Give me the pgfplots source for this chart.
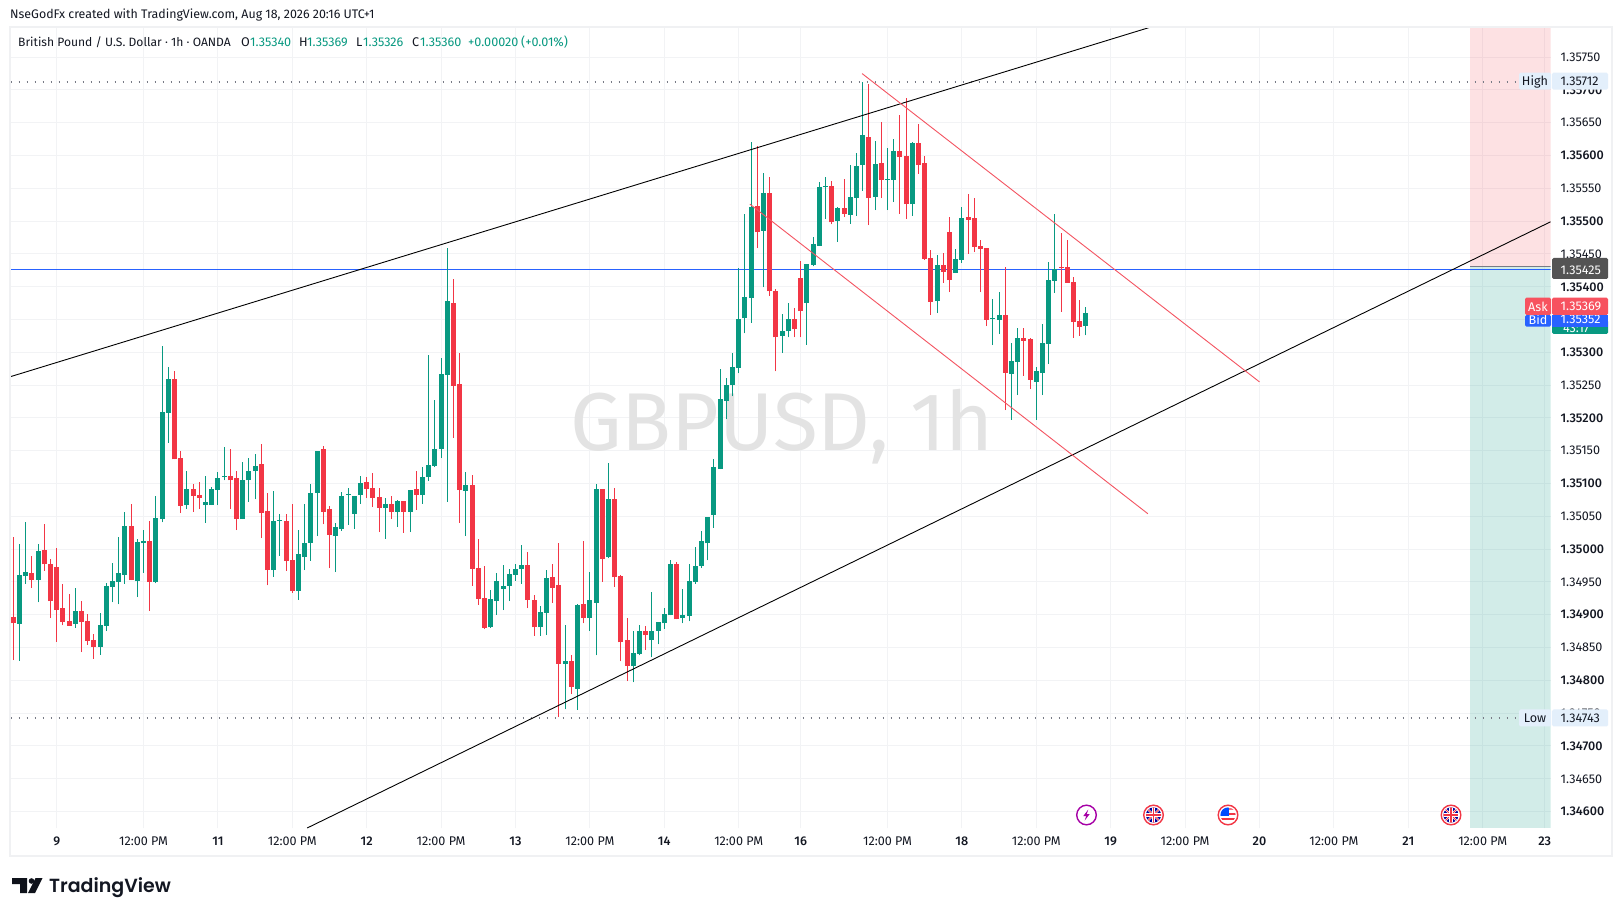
\documentclass[border=0pt]{standalone}
\usepackage{fontspec}
\setmainfont[BoldFont={Fira Sans Medium}]{Fira Sans}
\newfontfamily\logofont[BoldFont={Poppins SemiBold}]{Poppins}
\usepackage{pgfplots}
\usepackage{pgfplotstable}
\pgfplotsset{compat=1.18}
\definecolor{tvg}{HTML}{089981}
\definecolor{tvr}{HTML}{F23645}
\definecolor{tvb}{HTML}{2962FF}
\definecolor{tvt}{HTML}{131722}
\definecolor{gridc}{HTML}{F2F3F5}
\definecolor{frame}{HTML}{F0F1F3}
\definecolor{lbl}{HTML}{E3EFFB}
\definecolor{wm}{HTML}{E3E3E3}
\definecolor{dots}{HTML}{787B86}
\definecolor{chan}{HTML}{F7525F}
\newcommand{\ts}{\fontsize{12.6}{15}\selectfont}
\newcommand{\tsh}{\fontsize{12.4}{15}\selectfont}
\newcommand{\tsl}{\fontsize{12.1}{15}\selectfont}
\pgfplotstableread{
i lo bl bh hi
1 1.34830 1.34886 1.34961 1.35008
2 1.34947 1.34959 1.34965 1.35041
4 1.34919 1.34953 1.34997 1.35008
10 1.34880 1.34886 1.34906 1.34941
14 1.34839 1.34851 1.34884 1.34903
15 1.34875 1.34883 1.34944 1.34948
16 1.34919 1.34942 1.34951 1.34979
17 1.34916 1.34950 1.34964 1.35019
18 1.34947 1.34961 1.35035 1.35057
20 1.34927 1.34951 1.35011 1.35015
21 1.34964 1.35009 1.35012 1.35029
23 1.34948 1.34950 1.35047 1.35081
24 1.35041 1.35046 1.35209 1.35310
25 1.35162 1.35208 1.35259 1.35278
28 1.35061 1.35067 1.35092 1.35119
31 1.35040 1.35067 1.35072 1.35111
32 1.35067 1.35067 1.35092 1.35095
33 1.35067 1.35090 1.35108 1.35118
34 1.35105 1.35110 1.35111 1.35156
37 1.35046 1.35046 1.35105 1.35133
38 1.35072 1.35105 1.35119 1.35139
39 1.35076 1.35119 1.35127 1.35145
42 1.34958 1.34968 1.35043 1.35089
43 1.34990 1.35043 1.35044 1.35054
46 1.34923 1.34936 1.34993 1.35029
47 1.34968 1.34988 1.35010 1.35069
48 1.34982 1.35010 1.35086 1.35099
49 1.35020 1.35086 1.35150 1.35150
52 1.34965 1.35020 1.35034 1.35040
53 1.35028 1.35031 1.35081 1.35087
54 1.35037 1.35083 1.35084 1.35093
55 1.35031 1.35054 1.35081 1.35081
56 1.35069 1.35083 1.35101 1.35112
60 1.35016 1.35063 1.35069 1.35078
62 1.35034 1.35057 1.35073 1.35075
64 1.35026 1.35057 1.35090 1.35090
66 1.35069 1.35083 1.35110 1.35125
67 1.35104 1.35110 1.35128 1.35296
68 1.35125 1.35127 1.35153 1.35227
69 1.35139 1.35153 1.35267 1.35291
70 1.35072 1.35266 1.35378 1.35459
73 1.35020 1.35089 1.35098 1.35118
77 1.34880 1.34881 1.34924 1.34938
78 1.34900 1.34921 1.34952 1.34964
79 1.34907 1.34939 1.34944 1.34976
80 1.34921 1.34944 1.34962 1.34970
81 1.34952 1.34961 1.34970 1.34978
82 1.34947 1.34970 1.34976 1.35006
85 1.34868 1.34881 1.34904 1.34913
86 1.34869 1.34903 1.34956 1.34968
89 1.34756 1.34825 1.34829 1.34884
91 1.34755 1.34787 1.34915 1.34916
93 1.34876 1.34895 1.34922 1.34965
94 1.34838 1.34918 1.35091 1.35100
96 1.34986 1.34988 1.35076 1.35132
100 1.34797 1.34822 1.34841 1.34875
101 1.34838 1.34840 1.34875 1.34884
103 1.34835 1.34861 1.34876 1.34934
104 1.34855 1.34876 1.34889 1.34889
105 1.34879 1.34887 1.34901 1.34911
106 1.34899 1.34899 1.34977 1.34983
108 1.34887 1.34895 1.34899 1.34940
109 1.34890 1.34898 1.34951 1.34977
110 1.34947 1.34950 1.34974 1.35003
111 1.34971 1.34974 1.35012 1.35027
112 1.34983 1.35009 1.35049 1.35049
113 1.35033 1.35052 1.35125 1.35137
114 1.35122 1.35122 1.35229 1.35274
115 1.35198 1.35226 1.35251 1.35261
116 1.35233 1.35251 1.35277 1.35299
117 1.35268 1.35276 1.35351 1.35428
118 1.35329 1.35352 1.35384 1.35511
119 1.35345 1.35383 1.35521 1.35620
121 1.35399 1.35485 1.35543 1.35573
124 1.35299 1.35325 1.35332 1.35358
125 1.35323 1.35332 1.35351 1.35375
128 1.35312 1.35375 1.35434 1.35434
129 1.35431 1.35433 1.35465 1.35476
130 1.35462 1.35462 1.35552 1.35559
131 1.35503 1.35552 1.35553 1.35568
133 1.35469 1.35500 1.35520 1.35521
135 1.35496 1.35510 1.35537 1.35586
136 1.35508 1.35535 1.35584 1.35604
137 1.35546 1.35586 1.35631 1.35712
139 1.35517 1.35537 1.35587 1.35622
141 1.35517 1.35563 1.35564 1.35612
142 1.35529 1.35563 1.35607 1.35625
145 1.35508 1.35526 1.35619 1.35621
149 1.35360 1.35378 1.35433 1.35449
152 1.35421 1.35421 1.35442 1.35458
153 1.35436 1.35441 1.35505 1.35522
158 1.35311 1.35351 1.35353 1.35381
159 1.35328 1.35350 1.35357 1.35392
161 1.35197 1.35267 1.35287 1.35314
162 1.35235 1.35286 1.35322 1.35337
165 1.35197 1.35255 1.35272 1.35278
166 1.35235 1.35269 1.35314 1.35343
167 1.35282 1.35313 1.35410 1.35438
168 1.35391 1.35409 1.35427 1.35511
173 1.35326 1.35340 1.35360 1.35369
}\greencandles
\pgfplotstableread{
i lo bl bh hi
0 1.34831 1.34887 1.34897 1.35018
3 1.34941 1.34953 1.34964 1.34990
5 1.34967 1.34977 1.34999 1.35038
6 1.34895 1.34921 1.34977 1.34985
7 1.34859 1.34907 1.34973 1.35002
8 1.34884 1.34889 1.34910 1.34947
9 1.34883 1.34883 1.34891 1.34932
11 1.34843 1.34889 1.34906 1.34921
12 1.34854 1.34860 1.34891 1.34901
13 1.34833 1.34851 1.34862 1.34871
19 1.34953 1.34953 1.35035 1.35069
22 1.34906 1.34950 1.35012 1.35043
26 1.35137 1.35137 1.35259 1.35272
27 1.35055 1.35066 1.35139 1.35150
29 1.35057 1.35081 1.35092 1.35099
30 1.35061 1.35078 1.35083 1.35102
35 1.35061 1.35105 1.35111 1.35153
36 1.35029 1.35046 1.35108 1.35119
40 1.35017 1.35055 1.35130 1.35160
41 1.34945 1.34968 1.35058 1.35086
44 1.34967 1.34982 1.35043 1.35054
45 1.34933 1.34936 1.34983 1.35069
50 1.35038 1.35057 1.35153 1.35157
51 1.34971 1.35022 1.35061 1.35066
57 1.35078 1.35092 1.35102 1.35110
58 1.35064 1.35078 1.35093 1.35116
59 1.35026 1.35063 1.35080 1.35093
61 1.35046 1.35057 1.35069 1.35081
63 1.35025 1.35057 1.35073 1.35073
65 1.35060 1.35083 1.35092 1.35119
71 1.35170 1.35249 1.35375 1.35412
72 1.35040 1.35090 1.35252 1.35299
74 1.34944 1.34970 1.35098 1.35113
75 1.34915 1.34924 1.34971 1.35016
76 1.34878 1.34880 1.34926 1.34974
83 1.34910 1.34923 1.34976 1.34996
84 1.34868 1.34881 1.34923 1.34930
87 1.34918 1.34941 1.34958 1.34978
88 1.34744 1.34825 1.34945 1.35009
90 1.34779 1.34790 1.34829 1.34838
92 1.34887 1.34895 1.34916 1.35012
95 1.34950 1.34985 1.35091 1.35091
97 1.34943 1.34957 1.35076 1.35094
98 1.34829 1.34858 1.34959 1.34960
99 1.34799 1.34822 1.34861 1.34895
102 1.34847 1.34869 1.34875 1.34883
107 1.34893 1.34893 1.34977 1.34980
120 1.35459 1.35483 1.35523 1.35614
122 1.35386 1.35393 1.35543 1.35568
123 1.35271 1.35323 1.35393 1.35396
126 1.35323 1.35335 1.35351 1.35367
127 1.35323 1.35363 1.35413 1.35439
132 1.35495 1.35498 1.35553 1.35562
134 1.35506 1.35511 1.35520 1.35564
138 1.35494 1.35535 1.35628 1.35709
140 1.35535 1.35563 1.35589 1.35651
143 1.35511 1.35598 1.35607 1.35662
144 1.35503 1.35526 1.35599 1.35688
146 1.35572 1.35586 1.35619 1.35648
147 1.35441 1.35443 1.35589 1.35599
148 1.35357 1.35377 1.35444 1.35456
150 1.35406 1.35423 1.35433 1.35452
151 1.35392 1.35410 1.35484 1.35506
154 1.35450 1.35502 1.35506 1.35542
155 1.35453 1.35461 1.35505 1.35535
156 1.35392 1.35458 1.35462 1.35471
157 1.35340 1.35350 1.35459 1.35459
160 1.35212 1.35269 1.35357 1.35430
163 1.35264 1.35318 1.35322 1.35337
164 1.35244 1.35258 1.35321 1.35322
169 1.35362 1.35429 1.35430 1.35482
170 1.35406 1.35406 1.35430 1.35471
171 1.35322 1.35346 1.35407 1.35415
172 1.35325 1.35339 1.35348 1.35380
}\redcandles
\newcommand{\candles}[2]{%
 \addplot[draw=none,mark=none,forget plot,error bars/.cd,y dir=plus,y explicit,error mark=none,
   error bar style={draw=#2,line width=1pt}]
   table[x=i,y=lo,y error plus expr=\thisrow{hi}-\thisrow{lo}]{#1};
 \addplot[draw=none,mark=none,forget plot,error bars/.cd,y dir=plus,y explicit,error mark=none,
   error bar style={draw=#2,line width=5pt}]
   table[x=i,y=bl,y error plus expr=\thisrow{bh}-\thisrow{bl}]{#1};
}
\newcommand{\ukicon}[2]{\begin{scope}[shift={(#1,#2)}]
 \fill[white] (0,0) circle (10.5);
 \draw[tvr,line width=1.4pt] (0,0) circle (9.8);
 \begin{scope}\clip (0,0) circle (7.6);
  \fill[blue!60!black] (-8,-8) rectangle (8,8);
  \draw[white,line width=2pt] (-8,-8)--(8,8) (-8,8)--(8,-8);
  \draw[tvr,line width=.8pt] (-8,-8)--(8,8) (-8,8)--(8,-8);
  \draw[white,line width=3.2pt] (-8,0)--(8,0) (0,-8)--(0,8);
  \draw[tvr,line width=1.8pt] (-8,0)--(8,0) (0,-8)--(0,8);
 \end{scope}\end{scope}}
\newcommand{\usicon}[2]{\begin{scope}[shift={(#1,#2)}]
 \fill[white] (0,0) circle (10.5);
 \draw[tvr,line width=1.4pt] (0,0) circle (9.8);
 \begin{scope}\clip (0,0) circle (7.6);
  \fill[tvr] (-8,2.6) rectangle (8,5);
  \fill[tvr] (1,-2.5) rectangle (8,0.4);
  \fill[tvr!70] (1,-7) rectangle (8,-5);
  \fill[blue!70!cyan] (-8,-8) rectangle (1,1);
 \end{scope}\end{scope}}
\begin{document}
\begin{tikzpicture}
\begin{scope}[x=1pt,y=-1pt,shift={(-10.5pt,828pt)}]
 \fill[white] (0,0) rectangle (1623,916);
\end{scope}
\begin{axis}[at={(0pt,0pt)},anchor=south west,scale only axis,width=1540pt,height=801pt,
  xmin=-0.45,xmax=247.94,ymin=1.34575,ymax=1.35796,
  axis line style={draw=none},tick style={draw=none},major tick length=0pt,
  xmajorgrids,ymajorgrids,grid style={gridc,line width=1pt},
  xtick={7,21,33,45,57,69,81,93,105,117,127,141,153,165,177,189,201,213,225,237,247},
  xticklabels={{\bfseries 9},12:00 PM,{\bfseries 11},12:00 PM,{\bfseries 12},12:00 PM,{\bfseries 13},12:00 PM,{\bfseries 14},12:00 PM,{\bfseries 16},12:00 PM,{\bfseries 18},12:00 PM,{\bfseries 19},12:00 PM,{\bfseries 20},12:00 PM,{\bfseries 21},12:00 PM,{\bfseries 23}},
  xticklabel style={font=\ts,text=tvt,anchor=center,yshift=-13.5pt},
  ytick={1.3465,1.3475,1.3485,1.3495,1.3505,1.3515,1.3525,1.3535,1.3545,1.3555,1.3565,1.3575},
  yticklabels={1.34650,1.34750,1.34850,1.34950,1.35050,1.35150,1.35250,1.35350,1.35450,1.35550,1.35650,1.35750},
  extra y ticks={1.346,1.347,1.348,1.349,1.350,1.351,1.352,1.353,1.354,1.355,1.356,1.357},
  extra y tick labels={1.34600,1.34700,1.34800,1.34900,1.35000,1.35100,1.35200,1.35300,1.35400,1.35500,1.35600,1.35700},
  extra y tick style={grid=major,yticklabel style={font=\ts\bfseries}},
  yticklabel pos=right,
  yticklabel style={font=\ts,text=tvt,anchor=west,inner sep=0pt,xshift=10pt},
  clip=true]
 \node[text=wm,font=\fontsize{82}{94}\selectfont,anchor=center] at (axis cs:124,1.35187) {GBPUSD, 1h};
 \addplot[draw=none,fill=tvr,fill opacity=.15,forget plot] coordinates {(235,1.35431)(247.94,1.35431)(247.94,1.35796)(235,1.35796)} --cycle;
 \addplot[draw=none,fill=tvg,fill opacity=.18,forget plot] coordinates {(235,1.34575)(247.94,1.34575)(247.94,1.35431)(235,1.35431)} --cycle;
 \addplot[dots,line width=1pt,forget plot] coordinates {(235,1.35431)(247.94,1.35431)};
 \addplot[dots,line width=1.8pt,dash pattern=on 1.8pt off 6.2pt,forget plot] coordinates {(-0.45,1.35712)(242.9,1.35712)};
 \addplot[dots,line width=1.8pt,dash pattern=on 1.8pt off 6.2pt,forget plot] coordinates {(-0.45,1.34743)(242.9,1.34743)};
 \addplot[tvb,line width=1pt,forget plot] coordinates {(-0.45,1.35426)(247.94,1.35426)};
 \candles{\greencandles}{tvg}
 \candles{\redcandles}{tvr}
 \addplot[black,line width=.9pt,forget plot] coordinates {(-0.45,1.35263)(183.5,1.35796)};
 \addplot[black,line width=.9pt,forget plot] coordinates {(47.4,1.34575)(247.94,1.35499)};
 \addplot[tvr!85,line width=.9pt,forget plot] coordinates {(136.9,1.35725)(201,1.35255)};
 \addplot[tvr!85,line width=.9pt,forget plot] coordinates {(118.8,1.35526)(183,1.35054)};
\end{axis}
\begin{scope}[x=1pt,y=-1pt,shift={(-10.5pt,828pt)}]
 \draw[frame,line width=2pt] (10,27) rectangle (1612,856);
 % header
 \node[anchor=west,inner sep=0pt,font=\tsh,text=tvt] at (10,14.5) {NseGodFx created with TradingView.com, Aug 18, 2026 20:16 UTC+1};
 \node[anchor=west,inner sep=0pt,font=\tsl,text=tvt] at (18,42.3) {British Pound / U.S. Dollar · 1h · OANDA};
 \foreach \a/\b/\c/\d in {241/O/250/1.35340,299/H/307/1.35369,356/L/363/1.35326,412/C/420/1.35360}{
  \node[anchor=west,inner sep=0pt,font=\ts,text=tvt] at (\a,42.3) {\b};
  \node[anchor=west,inner sep=0pt,font=\ts,text=tvg] at (\c,42.3) {\d};}
 \node[anchor=west,inner sep=0pt,font=\ts,text=tvg] at (468,42.3) {+0.00020};
 \node[anchor=west,inner sep=0pt,font=\ts,text=tvg] at (521,42.3) {(+0.01\%)};
 % price labels
 \fill[lbl,rounded corners=1.5pt] (1519,72.7) rectangle (1551,89.7);
 \fill[lbl,rounded corners=1.5pt] (1552,72.7) rectangle (1608,89.7);
 \node[anchor=center,inner sep=0pt,font=\ts,text=tvt] at (1535,81.6) {High};
 \node[anchor=west,inner sep=0pt,font=\ts,text=tvt] at (1560.5,81.6) {1.35712};
 \fill[lbl,rounded corners=1.5pt] (1519,709.5) rectangle (1551,726.5);
 \fill[lbl,rounded corners=1.5pt] (1552,709.5) rectangle (1608,726.5);
 \node[anchor=center,inner sep=0pt,font=\ts,text=tvt] at (1535,718) {Low};
 \node[anchor=west,inner sep=0pt,font=\ts,text=tvt] at (1560.5,718) {1.34743};
 \fill[black!67,rounded corners=1.5pt] (1552,258) rectangle (1608,279);
 \node[anchor=west,inner sep=0pt,font=\ts,text=white] at (1560.5,270) {1.35425};
 \fill[tvg,rounded corners=1.5pt] (1552,320) rectangle (1608,334);
 \node[anchor=west,inner sep=0pt,font=\ts,text=white] at (1563,328.5) {43:17};
 \fill[tvb,rounded corners=1.5pt] (1525,315) rectangle (1551,326.7);
 \fill[tvb] (1552,315) rectangle (1608,326.7);
 \node[anchor=center,inner sep=0pt,font=\ts,text=white] at (1538,319.5) {Bid};
 \node[anchor=west,inner sep=0pt,font=\ts,text=white] at (1560.5,319.5) {1.35352};
 \fill[chan,rounded corners=1.5pt] (1525,297.7) rectangle (1551,315);
 \fill[chan,rounded corners=1.5pt] (1552,297.7) rectangle (1608,315);
 \node[anchor=center,inner sep=0pt,font=\ts,text=white] at (1538,306.7) {Ask};
 \node[anchor=west,inner sep=0pt,font=\ts,text=white] at (1560.5,306.7) {1.35369};
 % event icons
 \begin{scope}[shift={(1086.5,815)}]
  \fill[white] (0,0) circle (10.5);
  \draw[violet!70!magenta,line width=1.4pt] (0,0) circle (9.8);
  \fill[violet!70!magenta] (1.8,-5.5)--(-3.2,1)--(-0.3,1)--(-1.8,5.5)--(3.2,-1)--(0.3,-1)--cycle;
 \end{scope}
 \ukicon{1153.5}{815}
 \usicon{1228}{815}
 \ukicon{1451}{815}
 % logo
 \fill[tvt!80!black] (12,878)--(27,878)--(27,893)--(20,893)--(20,884)--(12,884)--cycle;
 \fill[tvt!80!black] (31.5,881) circle (2.8);
 \fill[tvt!80!black] (35.5,878)--(42.5,878)--(35,893)--(28,893)--cycle;
 \node[anchor=base west,inner sep=0pt,text=tvt,font=\logofont\bfseries\fontsize{19}{24}\selectfont] at (49,892.7) {TradingView};
 \pgfresetboundingbox
 \path (0,0) rectangle (1623,916);
\end{scope}
\end{tikzpicture}
\end{document}
